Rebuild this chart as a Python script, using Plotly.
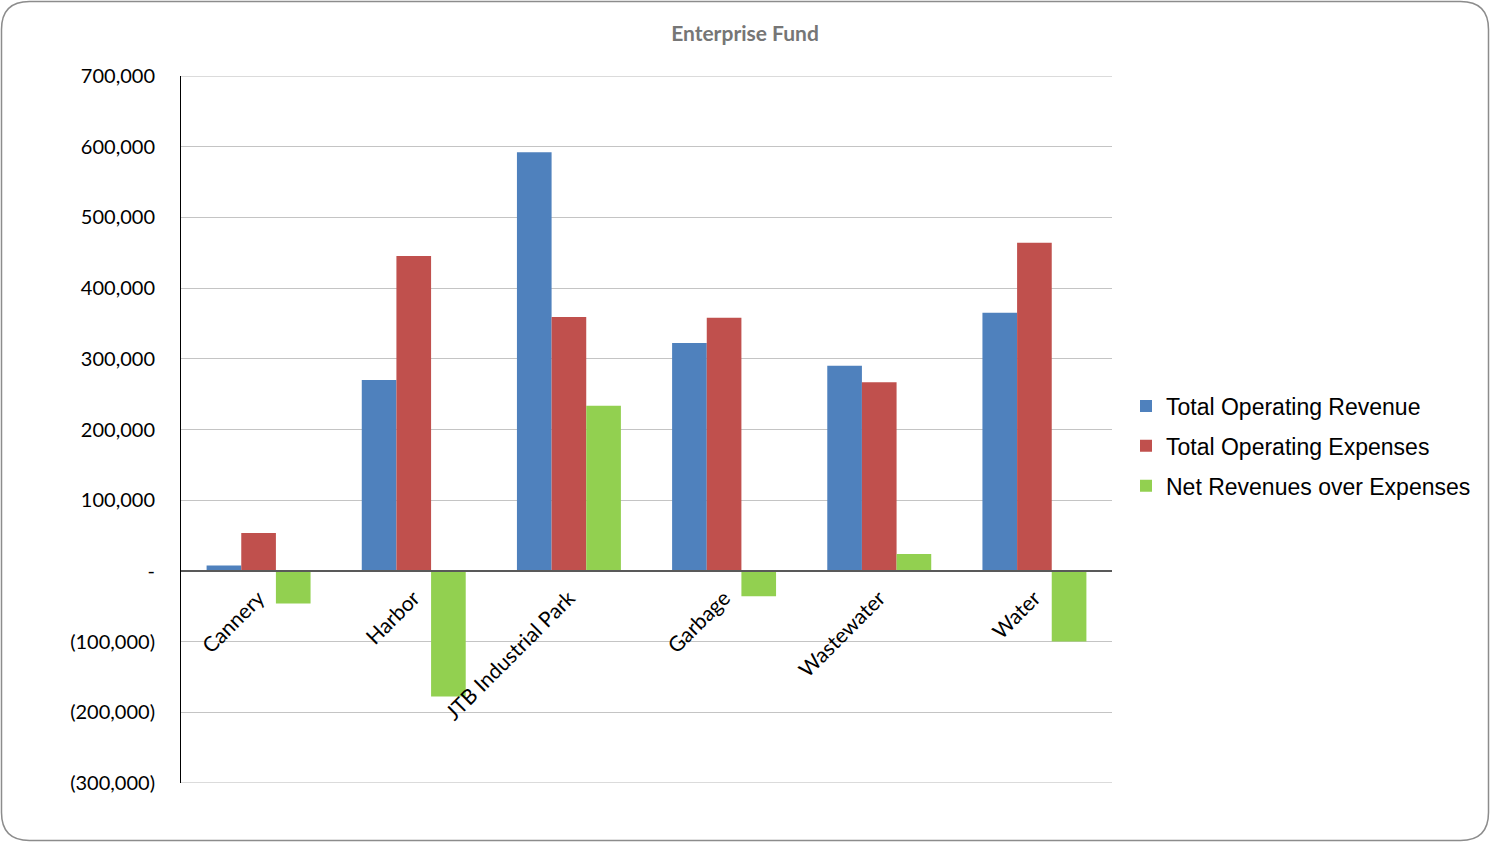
import plotly.graph_objects as go

# Enterprise fund figures by department
categories = ["Cannery", "Harbor", "JTB Industrial Park", "Garbage", "Wastewater", "Water"]
operating_revenue = [7500, 270000, 592000, 322500, 290000, 365000]
operating_expenses = [53500, 445500, 359000, 358000, 267000, 464000]
net_revenues = [-46000, -177500, 233500, -36000, 24000, -100000]

y_tick_values = [700000, 600000, 500000, 400000, 300000, 200000, 100000, 0,
                 -100000, -200000, -300000]
y_tick_labels = ["700,000", "600,000", "500,000", "400,000", "300,000", "200,000",
                 "100,000", "-", "(100,000)", "(200,000)", "(300,000)"]
y_min, y_max = -300000, 700000

W, H = 1490, 842
L, R, T, B = 181, 378, 76, 59
PW, PH = W - L - R, H - T - B

fig = go.Figure()
series = [
    ("Total Operating Revenue", operating_revenue, "#4F81BD"),
    ("Total Operating Expenses", operating_expenses, "#C0504D"),
    ("Net Revenues over Expenses", net_revenues, "#92D050"),
]
for i, (name, vals, color) in enumerate(series):
    fig.add_trace(go.Bar(
        x=categories, y=vals, name=name, legendgroup=f"g{i}",
        marker=dict(color=color, line=dict(width=0)),
    ))

# gridlines at the top and bottom of the value range
for v in (y_min, y_max):
    fig.add_shape(type="line", xref="paper", yref="y", x0=0, x1=1, y0=v, y1=v,
                  line=dict(color="#B8B8B8", width=1.2), layer="below")

# rounded outer border, converted from pixels to paper coordinates
def px(x):
    return (x - L) / PW

def py(y):
    return (H - B - y) / PH

x0, y0, x1, y1, r = 1.5, 1.5, 1488.5, 840.5, 28
path = (
    f"M {px(x0 + r)},{py(y0)} L {px(x1 - r)},{py(y0)} "
    f"Q {px(x1)},{py(y0)} {px(x1)},{py(y0 + r)} "
    f"L {px(x1)},{py(y1 - r)} Q {px(x1)},{py(y1)} {px(x1 - r)},{py(y1)} "
    f"L {px(x0 + r)},{py(y1)} Q {px(x0)},{py(y1)} {px(x0)},{py(y1 - r)} "
    f"L {px(x0)},{py(y0 + r)} Q {px(x0)},{py(y0)} {px(x0 + r)},{py(y0)} Z"
)
fig.add_shape(type="path", path=path, xref="paper", yref="paper",
              line=dict(color="#8C8C8C", width=1.5), layer="below")

fig.update_layout(
    width=W, height=H,
    margin=dict(l=L, r=R, t=T, b=B, autoexpand=False),
    paper_bgcolor="white", plot_bgcolor="white",
    barmode="group", bargap=0.33, bargroupgap=0,
    title=dict(text="<b>Enterprise Fund</b>", x=0.5, xref="container",
               y=1 - 34 / H, yanchor="middle",
               font=dict(family="Lato", size=21, color="#767676")),
    font=dict(family="Lato", size=20, color="#000000"),
    showlegend=True,
    legend=dict(x=px(1126), xanchor="left", y=py(446), yanchor="middle",
                font=dict(family="Liberation Sans", size=23, color="#000000"),
                tracegroupgap=7, bgcolor="rgba(0,0,0,0)"),
    xaxis=dict(
        anchor="free", position=0.3, tickangle=-45,
        showline=True, linecolor="#595959", linewidth=1.5,
        showgrid=False, ticks="", ticklabelstandoff=6,
        tickfont=dict(family="Lato", size=21),
    ),
    yaxis=dict(
        range=[y_min, y_max], tickvals=y_tick_values, ticktext=y_tick_labels,
        showgrid=True, gridcolor="#C4C4C4", gridwidth=1,
        zeroline=False, showline=True, linecolor="#000000", linewidth=1,
        ticks="", ticklabelstandoff=21, tickfont=dict(family="Lato", size=20),
    ),
)

fig.write_html("out.html")
